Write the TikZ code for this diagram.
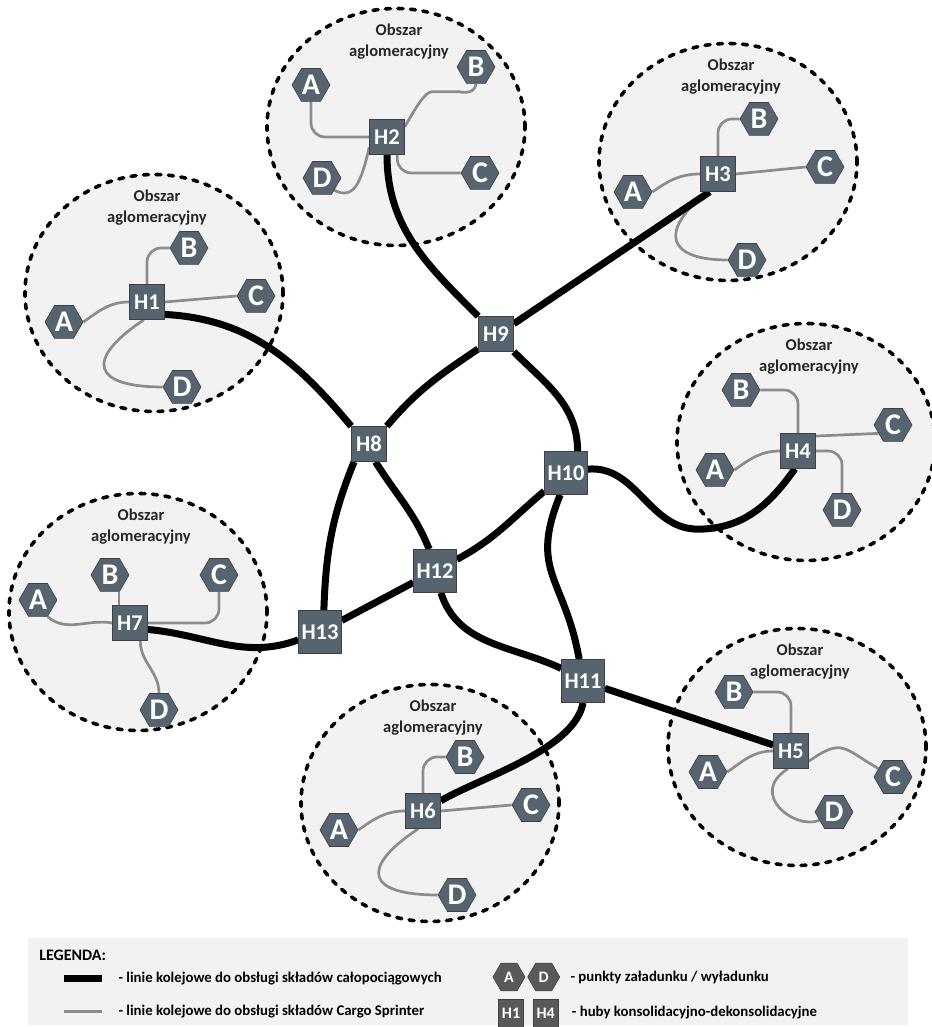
\documentclass[tikz,border=0pt]{standalone}
\usepackage{fontspec}
\setmainfont{Carlito}
\usetikzlibrary{shapes.geometric,positioning,backgrounds}
\definecolor{hubfill}{HTML}{56646F}
\definecolor{areafill}{HTML}{F2F2F2}
\definecolor{sprintergray}{HTML}{8C8C8C}
\definecolor{keyfill}{HTML}{595959}

\begin{document}
\begin{tikzpicture}[
  x=1pt, y=1pt,
  area/.style={ellipse, draw, fill=areafill, line width=3.6pt, line cap=round,
               dash pattern=on 5pt off 7.5pt, minimum width=258pt, minimum height=237pt},
  areatitle/.style={align=center, text=black!85, font=\bfseries\fontsize{16.5}{20.5}\selectfont},
  hub/.style={draw=black!75, line width=0.6pt, fill=hubfill, text=white,
              font=\bfseries\fontsize{22.5}{26}\selectfont, minimum size=35pt, inner sep=2pt},
  bighub/.style={hub, minimum size=43pt},
  loadpoint/.style={regular polygon, regular polygon sides=6, draw=black!75, line width=0.6pt,
                    fill=hubfill, text=white, font=\bfseries\fontsize{30}{32}\selectfont,
                    minimum size=38pt, inner sep=0pt},
  railway/.style={line width=7pt},
  sprinter/.style={sprintergray, line width=2.7pt, rounded corners=14pt},
  keybox/.style={fill=areafill, minimum width=880pt, minimum height=87pt, inner sep=0pt},
  keytitle/.style={anchor=west, font=\bfseries\fontsize{16}{19}\selectfont},
  keytext/.style={anchor=west, font=\bfseries\fontsize{14.8}{17}\selectfont},
  keypoint/.style={loadpoint, fill=keyfill, font=\bfseries\fontsize{16}{18}\selectfont, minimum size=32pt},
  keyhub/.style={hub, fill=keyfill, font=\bfseries\fontsize{16}{18}\selectfont,
                 minimum size=0pt, minimum width=25pt, minimum height=28pt, inner sep=1pt}
]
\useasboundingbox (0,0) rectangle (931,1027);

\begin{scope}[on background layer]
\node[area] (a1) at (154,734) {};
\node[area] (a2) at (396,900) {};
\node[area] (a3) at (728,865) {};
\node[area] (a4) at (806,585) {};
\node[area] (a5) at (797,280) {};
\node[area] (a6) at (430,224) {};
\node[area] (a7) at (138,415) {};
\end{scope}

\node[areatitle] (t1) at ([xshift=3pt,yshift=-35pt]a1.north) {Obszar\\aglomeracyjny};
\node[areatitle] (t2) at ([xshift=3pt,yshift=-35pt]a2.north) {Obszar\\aglomeracyjny};
\node[areatitle] (t3) at ([xshift=3pt,yshift=-35pt]a3.north) {Obszar\\aglomeracyjny};
\node[areatitle] (t4) at ([xshift=3pt,yshift=-35pt]a4.north) {Obszar\\aglomeracyjny};
\node[areatitle] (t5) at ([xshift=3pt,yshift=-35pt]a5.north) {Obszar\\aglomeracyjny};
\node[areatitle] (t6) at ([xshift=3pt,yshift=-35pt]a6.north) {Obszar\\aglomeracyjny};
\node[areatitle] (t7) at ([xshift=3pt,yshift=-35pt]a7.north) {Obszar\\aglomeracyjny};

\node[hub] (h1) at (147,725) {H1};
\node[hub] (h2) at (387,890) {H2};
\node[hub] (h3) at (718,853) {H3};
\node[hub] (h4) at (798,576) {H4};
\node[hub] (h5) at (791,276) {H5};
\node[hub] (h6) at (423,216) {H6};
\node[hub] (h7) at (130,404) {H7};
\node[hub] (h8) at (369,583) {H8};
\node[hub] (h9) at (496,693) {H9};
\node[bighub] (h10) at (566,554) {H10};
\node[bighub] (h11) at (583,346) {H11};
\node[bighub] (h12) at (435,456) {H12};
\node[bighub] (h13) at (320,395) {H13};

\node[loadpoint] (p1a) at (64,705) {A};
\node[loadpoint] (p1b) at (189,779) {B};
\node[loadpoint] (p1c) at (256,731) {C};
\node[loadpoint] (p1d) at (182,640) {D};
\node[loadpoint] (p2a) at (311,942) {A};
\node[loadpoint] (p2b) at (476,960) {B};
\node[loadpoint] (p2c) at (480,854) {C};
\node[loadpoint] (p2d) at (322,849) {D};
\node[loadpoint] (p3a) at (633,835) {A};
\node[loadpoint] (p3b) at (759,908) {B};
\node[loadpoint] (p3c) at (825,860) {C};
\node[loadpoint] (p3d) at (747,767) {D};
\node[loadpoint] (p4a) at (715,557) {A};
\node[loadpoint] (p4b) at (741,637) {B};
\node[loadpoint] (p4c) at (893,602) {C};
\node[loadpoint] (p4d) at (842,517) {D};
\node[loadpoint] (p5a) at (708,255) {A};
\node[loadpoint] (p5b) at (734,335) {B};
\node[loadpoint] (p5c) at (893,250) {C};
\node[loadpoint] (p5d) at (834,215) {D};
\node[loadpoint] (p6a) at (339,197) {A};
\node[loadpoint] (p6b) at (465,270) {B};
\node[loadpoint] (p6c) at (531,222) {C};
\node[loadpoint] (p6d) at (457,132) {D};
\node[loadpoint] (p7a) at (38,427) {A};
\node[loadpoint] (p7b) at (110,452) {B};
\node[loadpoint] (p7c) at (219,452) {C};
\node[loadpoint] (p7d) at (159,317) {D};

\begin{scope}[on background layer]
\draw[sprinter] (p1a.east) to[out=35,in=180] (h1.west);
\draw[sprinter] (h1.north) |- (p1b.west);
\draw[sprinter] (h1.east) -- (p1c.west);
\draw[sprinter] (h1.-100) .. controls +(-60,-40) and +(-70,0) .. (p1d.west);
\draw[sprinter] (p2a.south) |- (h2.west);
\draw[sprinter] (p2b.south) to[out=-95,in=0] ++(-30,-8) to[out=180,in=60] (h2.30);
\draw[sprinter] (h2.-60) |- (p2c.west);
\draw[sprinter] (p2d.-45) .. controls +(20,-10) and +(-8,-35) .. (h2.-150);
\draw[sprinter] (p3a.east) to[out=35,in=180] (h3.west);
\draw[sprinter] (h3.north) |- (p3b.west);
\draw[sprinter] (h3.east) -- (p3c.west);
\draw[sprinter] (h3.-120) .. controls +(-50,-40) and +(-60,0) .. (p3d.west);
\draw[sprinter] (p4a.east) to[out=35,in=180] (h4.west);
\draw[sprinter] (p4b.east) -| (h4.north);
\draw[sprinter] (h4.40) -- (p4c.210);
\draw[sprinter] (h4.east) -| (p4d.north);
\draw[sprinter] (p5a.east) to[out=35,in=180] (h5.west);
\draw[sprinter] (p5b.east) -| (h5.north);
\draw[sprinter] (h5.-30) to[out=35,in=150,looseness=1.5] (p5c.150);
\draw[sprinter] (h5.-100) .. controls +(-40,-25) and +(-25,-10) .. (p5d.210);
\draw[sprinter] (p6a.east) to[out=35,in=180] (h6.west);
\draw[sprinter] (h6.north) |- (p6b.west);
\draw[sprinter] (h6.east) -- (p6c.west);
\draw[sprinter] (h6.-105) .. controls +(-60,-40) and +(-70,0) .. (p6d.west);
\draw[sprinter] (p7a.-60) to[out=-40,in=170] (h7.west);
\draw[sprinter] ([xshift=9pt]p7b.south) -- ([xshift=9pt]p7b.south |- h7.north);
\draw[sprinter] (h7.east) -| (p7c.south);
\draw[sprinter] (h7.-60) to[out=-90,in=90] (p7d.north);

\draw[railway] (h1.-35) to[out=-3,in=130] (h8.135);
\draw[railway] (h2.south) to[out=-90,in=135] (h9.135);
\draw[railway] (h9.30) -- (h3.-115);
\draw[railway] (h9.-140) to[out=-146,in=50] (h8.45);
\draw[railway] (h9.-45) to[out=-45,in=90] (h10.62);
\draw[railway] (h10.10) to[out=5,in=180] ++(110,-60) to[out=0,in=-125] (h4.-100);
\draw[railway] (h8.-130) to[out=-112,in=88] (h13.80);
\draw[railway] (h8.-70) to[out=-58,in=112] (h12.105);
\draw[railway] (h13) -- (h12);
\draw[railway] (h12) to[out=28,in=-140] (h10);
\draw[railway] (h12.-75) to[out=-72,in=155] (h11.150);
\draw[railway] (h10.-105) to[out=-112,in=100,looseness=1.3] (h11.100);
\draw[railway] (h11) -- (h5);
\draw[railway] (h11.south) to[out=-100,in=30,looseness=0.7] (h6.30);
\draw[railway] (h7.-20) to[out=-5,in=200] (h13.-160);
\end{scope}

\node[keybox] (legend) at (468,45) {};
\node[keytitle] (keyhead) at ([xshift=8pt,yshift=-17pt]legend.north west) {LEGENDA:};
\coordinate (k1a) at (64,48);
\coordinate (k1b) at (102,48);
\node[keytext, right=13pt of k1b] (k1) {- linie kolejowe do obsługi składów całopociągowych};
\coordinate (k2a) at (64,15);
\coordinate (k2b) at (102,15);
\node[keytext, right=13pt of k2b] (k2) {- linie kolejowe do obsługi składów Cargo Sprinter};
\node[keypoint] (ka) at (509,50) {A};
\node[keypoint, right=2pt of ka] (kd) {D};
\node[keytext, right=7pt of kd] (k3) {- punkty załadunku / wyładunku};
\node[keyhub] (kh1) at (511,14) {H1};
\node[keyhub, right=9pt of kh1] (kh4) {H4};
\node[keytext, right=10pt of kh4] (k4) {- huby konsolidacyjno-dekonsolidacyjne};
\draw[railway] (k1a) -- (k1b);
\draw[sprinter, line width=3pt] (k2a) -- (k2b);

\end{tikzpicture}
\end{document}
